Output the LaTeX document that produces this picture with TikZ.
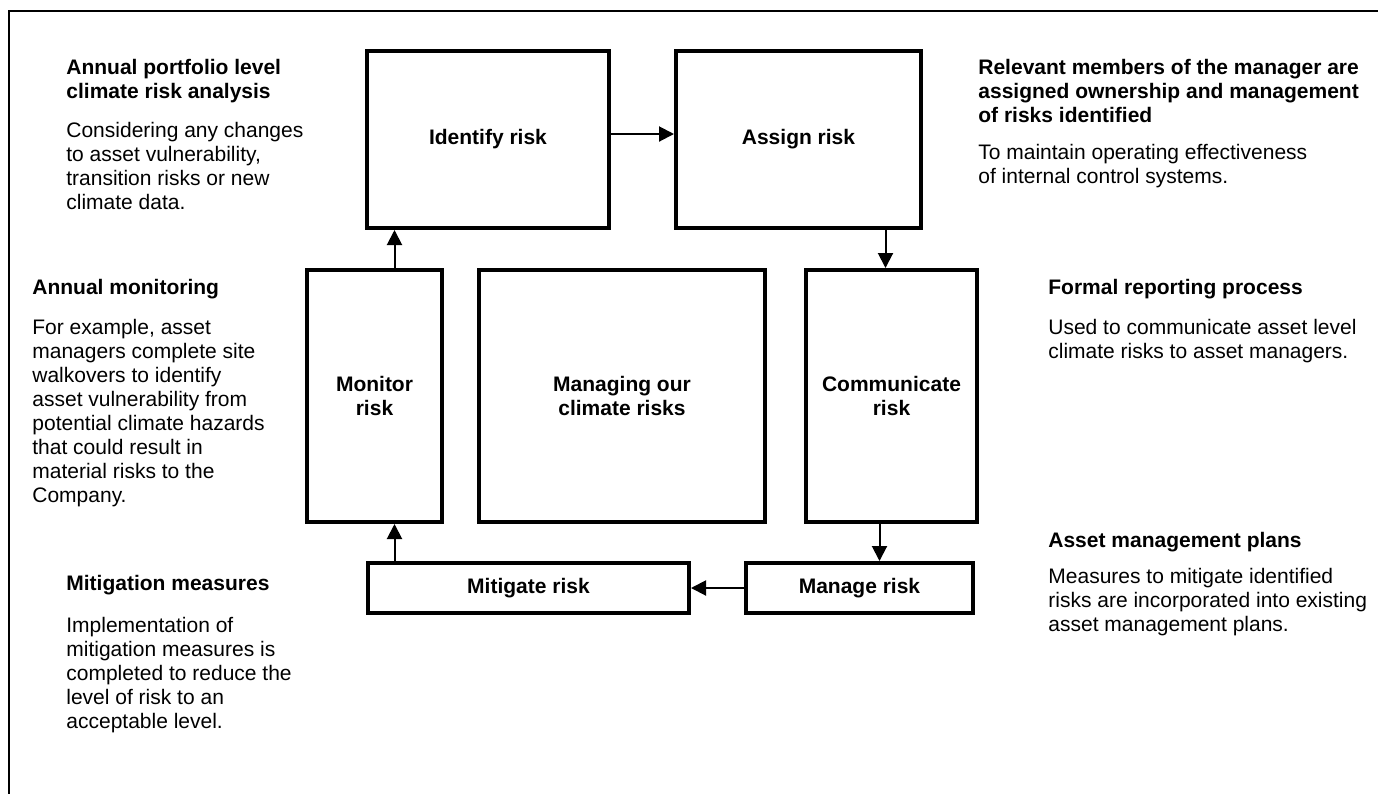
\documentclass[tikz,border=0pt]{standalone}
\usepackage{fontspec}
\setmainfont{Liberation Sans}
\usepackage{tikz}
\usetikzlibrary{arrows.meta, positioning}

\begin{document}
\begin{tikzpicture}[
      x=0.5pt, y=-0.5pt,
      node distance=21pt and 31.5pt,
      stage/.style={draw, line width=2pt, align=center, inner sep=0pt,
                    font=\fontsize{10.5}{12}\selectfont\bfseries},
      head/.style={anchor=north west, align=left, inner sep=0pt,
                   font=\fontsize{10.5}{12}\selectfont\bfseries},
      body/.style={anchor=north west, align=left, inner sep=0pt,
                   font=\fontsize{10.5}{12}\selectfont},
      >={Triangle[length=7.5pt, width=7.5pt]},
      flow/.style={->, line width=1pt}
    ]
    \useasboundingbox (0,0) rectangle (1378,794);
    \draw[line width=1pt] (1378,11) -- (9,11) -- (9,794);

    \node[stage, minimum width=121pt, minimum height=88.5pt] (identify) at (488,139.5) {Identify risk};
    \node[stage, minimum width=122.5pt, minimum height=88.5pt, right=of identify] (assign) {Assign risk};

    \node[stage, minimum width=143pt, minimum height=126pt] (core) at (622,396) {Managing our\\climate risks};
    \node[stage, minimum width=67.5pt, minimum height=126pt, left=16.5pt of core] (monitor) {Monitor\\risk};
    \node[stage, minimum width=85.5pt, minimum height=126pt, right=18.5pt of core] (communicate) {Communicate\\risk};

    \node[stage, minimum width=160.5pt, minimum height=25pt] (mitigate) at (528.5,588) {Mitigate risk};
    \node[stage, minimum width=113.5pt, minimum height=25pt] (manage) at (859.5,588) {Manage risk};

    \draw[flow] ([yshift=2.75pt]identify.east) -- ([yshift=2.75pt]assign.west);
    \draw[flow] ([xshift=-3pt]communicate.north |- assign.south) -- ([xshift=-3pt]communicate.north);
    \draw[flow] ([xshift=-6pt]communicate.south) -- ([xshift=-6pt]communicate.south |- manage.north);
    \draw[flow] (manage) -- (mitigate);
    \draw[flow] ([xshift=10pt]monitor.south |- mitigate.north) -- ([xshift=10pt]monitor.south);
    \draw[flow] ([xshift=10pt]monitor.north) -- ([xshift=10pt]monitor.north |- identify.south);

    \node[head] (analysisHead) at (66,59) {Annual portfolio level\\climate risk analysis};
    \node[body] (analysisText) at (66,122) {Considering any changes\\to asset vulnerability,\\transition risks or new\\climate data.};

    \node[head] (monitorHead) at (32,279) {Annual monitoring};
    \node[body] (monitorText) at (32,319) {For example, asset\\managers complete site\\walkovers to identify\\asset vulnerability from\\potential climate hazards\\that could result in\\material risks to the\\Company.};

    \node[head] (mitigateHead) at (66,575) {Mitigation measures};
    \node[body] (mitigateText) at (66,617) {Implementation of\\mitigation measures is\\completed to reduce the\\level of risk to an\\acceptable level.};

    \node[head] (assignHead) at (978,59) {Relevant members of the manager are\\assigned ownership and management\\of risks identified};
    \node[body] (assignText) at (978,144) {To maintain operating effectiveness\\of internal control systems.};

    \node[head] (reportHead) at (1048,279) {Formal reporting process};
    \node[body] (reportText) at (1048,319) {Used to communicate asset level\\climate risks to asset managers.};

    \node[head] (planHead) at (1048,532) {Asset management plans};
    \node[body] (planText) at (1048,568) {Measures to mitigate identified\\risks are incorporated into existing\\asset management plans.};
\end{tikzpicture}
\end{document}
